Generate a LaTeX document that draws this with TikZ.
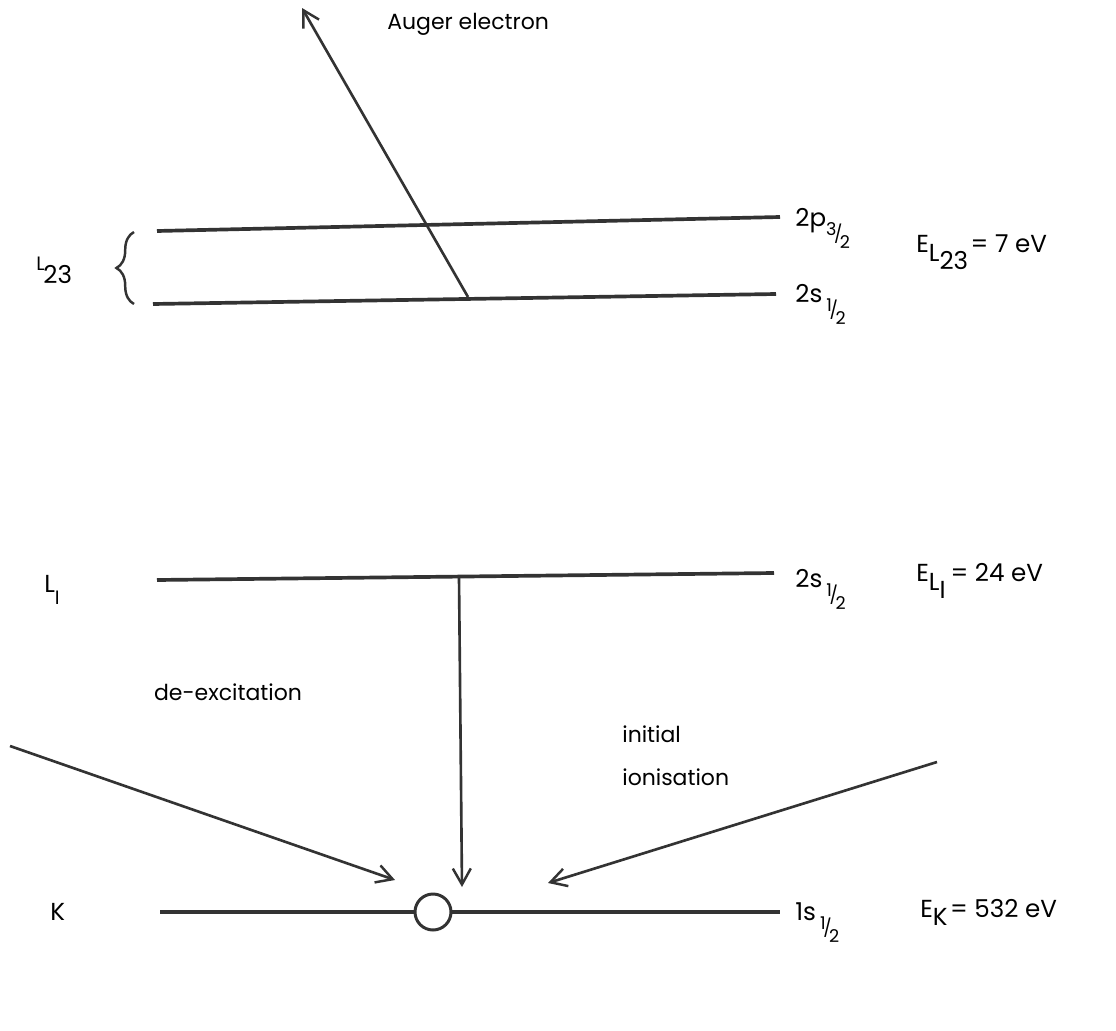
\documentclass[tikz,border=0pt]{standalone}
\usepackage{fontspec}
\setmainfont{Poppins}
\usetikzlibrary{arrows.meta,decorations.pathreplacing}
\newcommand{\halfsub}[2]{\raisebox{-1.1ex}{\fontsize{10}{10}\selectfont\raisebox{0.6ex}{#1}\kern-0.14em/\kern-0.14em\raisebox{-0.8ex}{#2}}}
\tikzset{
  font=\fontsize{12.5}{16}\selectfont,
  level/.style={draw=black!80, line width=2.1pt},
  transition/.style={-{Straight Barb[length=3.2mm,width=3.6mm,line width=1.4pt]}, draw=black!80, line width=1.5pt},
  orbital/.style={anchor=base west, inner sep=0pt, font=\fontsize{14}{18}\selectfont},
  shell/.style={anchor=base west, inner sep=0pt, font=\fontsize{14}{18}\selectfont},
  energy/.style={anchor=base west, inner sep=0pt, font=\fontsize{14}{18}\selectfont},
  caption/.style={inner sep=0pt, align=left},
  hole/.style={circle, draw=black!80, fill=white, line width=1.7pt, minimum size=7.2mm, inner sep=0pt}
}
\begin{document}
\begin{tikzpicture}[x=0.02cm,y=-0.02cm]
  \useasboundingbox (0,0) rectangle (1116,1031);

  % energy levels
  \coordinate (p32w) at (157,231);
  \coordinate (p32e) at (780,217);
  \coordinate (s12w) at (153,304);
  \coordinate (s12e) at (776,294);
  \coordinate (l1w) at (157,580);
  \coordinate (l1e) at (774,573);
  \coordinate (kw) at (160,912);
  \coordinate (ke) at (780,912);
  \draw[level] (p32w) -- (p32e);
  \draw[level] (s12w) -- (s12e);
  \draw[level] (l1w) -- (l1e);
  \draw[level] (kw) -- (ke);
  \node[hole] (hole) at (433,912) {};

  % shell names
  \node[shell] (l23) at (36,283) {\raisebox{0.9ex}{\fontsize{11}{11}\selectfont L}\kern-0.05em 23};
  \coordinate (bracebot) at (134,304);
  \coordinate (bracetop) at (134,232);
  \draw[line width=1.4pt, draw=black!80, decoration={brace, amplitude=10pt}, decorate] (bracebot) -- (bracetop);
  \node[shell] (l1) at (44,592) {L\raisebox{-0.9ex}{\fontsize{11}{11}\selectfont I}};
  \node[shell] (k) at (50,920) {K};

  % orbitals
  \node[orbital] (o2p) at (795,226) {2p\halfsub{3}{2}};
  \node[orbital] (o2s) at (795,302) {2s\,\halfsub{1}{2}};
  \node[orbital] (o2sl) at (795,587) {2s\,\halfsub{1}{2}};
  \node[orbital] (o1s) at (795,920) {1s\,\halfsub{1}{2}};

  % binding energies
  \node[energy] (el23) at (916,252) {E\raisebox{-0.7ex}{L\raisebox{-0.6ex}{23}}\kern0.1em= 7 eV};
  \node[energy] (el1) at (916,581) {E\raisebox{-0.7ex}{L\raisebox{-0.6ex}{I}}\kern0.2em= 24 eV};
  \node[energy] (ek) at (920,917) {E\raisebox{-0.6ex}{K}\kern0.1em= 532 eV};

  % transitions
  \coordinate (augerfrom) at (468,297);
  \coordinate (augerto) at (302,8);
  \draw[transition] (augerfrom) -- (augerto);
  \node[caption, anchor=base west] (auger) at (387,30) {Auger electron};

  \coordinate (dexfrom) at (459,577);
  \coordinate (dexto) at (462,887);
  \draw[transition] (dexfrom) -- (dexto);
  \node[caption] (dex) at (228,692) {de-excitation};

  \coordinate (inleft) at (10,746);
  \coordinate (inlefttip) at (395,880);
  \draw[transition] (inleft) -- (inlefttip);
  \coordinate (inright) at (937,762);
  \coordinate (inrighttip) at (548,883);
  \draw[transition] (inright) -- (inrighttip);
  \node[caption, anchor=north west, font=\fontsize{12.5}{25}\selectfont] (ion) at (622,725) {initial\\ionisation};
\end{tikzpicture}
\end{document}
